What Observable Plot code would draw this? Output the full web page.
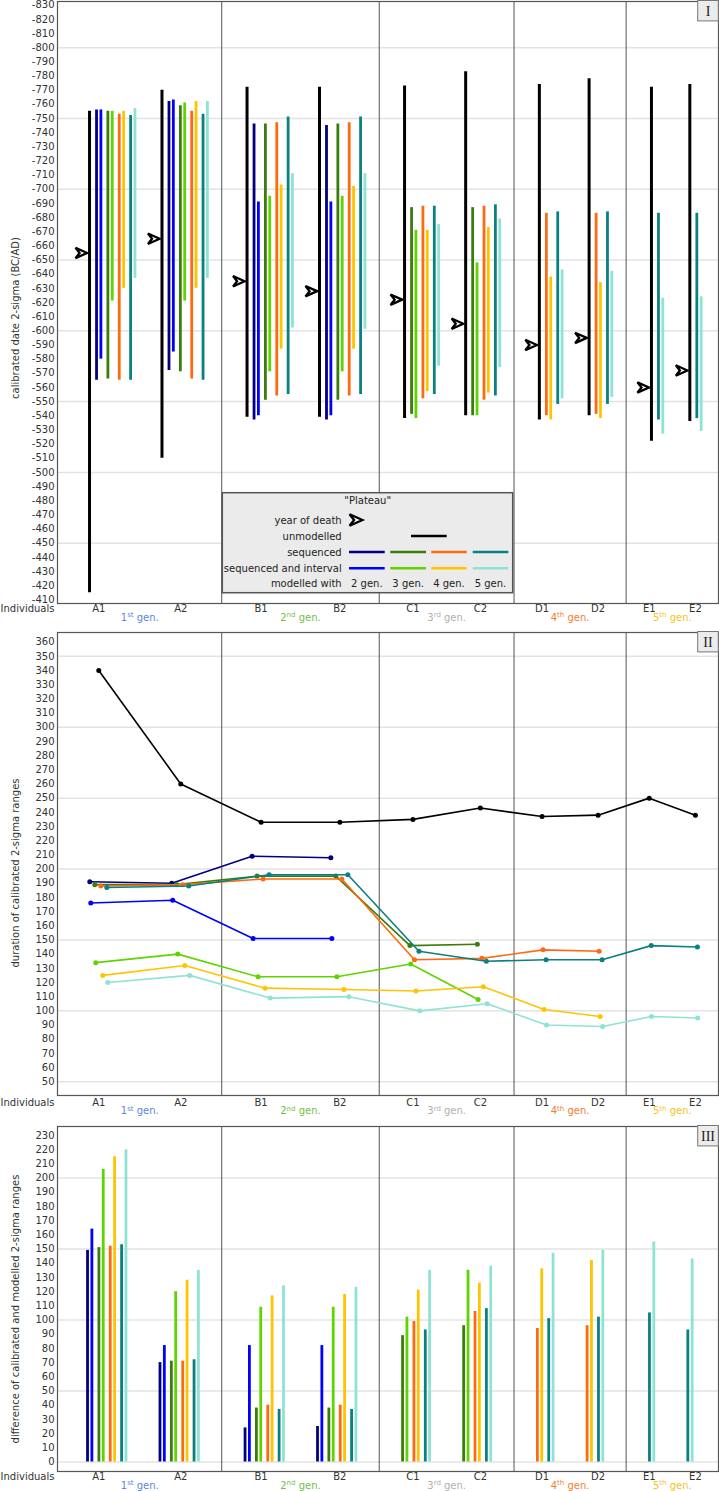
<!DOCTYPE html>
<html><head><meta charset="utf-8">
<script src="https://cdn.jsdelivr.net/npm/d3@7"></script>
<script src="https://cdn.jsdelivr.net/npm/@observablehq/plot@0.6"></script>
<style>
body{margin:0;background:#fff;}
#chart{width:719px;}
#chart svg{display:block;}
</style></head><body><div id="chart"></div>
<script>
// ---------------- data ----------------
const individuals = ["A1","A2","B1","B2","C1","C2","D1","D2","E1","E2"];
const generationLabels = ["1st gen.","2nd gen.","3rd gen.","4th gen.","5th gen."];
const seriesKeys = ["unmodelled","seq2","int2","seq3","int3","seq4","int4","seq5","int5"];
const legendTitle = '"Plateau"';
const legendRows = ["year of death","unmodelled","sequenced","sequenced and interval","modelled with"];
const legendGens = ["2 gen.","3 gen.","4 gen.","5 gen."];
const panelTitles = ["I","II","III"];
const yTitles = ["calibrated date 2-sigma (BC/AD)","duration of calibrated 2-sigma ranges","difference of calibrated and modelled 2-sigma ranges"];

// Panel I: calibrated 2-sigma ranges (BC negative)
const yearOfDeath = [-655,-665,-635,-628,-622,-605,-590,-595,-560,-572];
const unmodStart = [-755,-770,-772,-772,-773,-783,-774,-778,-772,-774];
const unmodEnd   = [-415,-510,-539,-539,-538,-540,-537,-540,-522,-536];
const seq2Start = [-756,-762,-746,-745,null,null,null,null,null,null];
const seq2End   = [-565,-572,-537,-537,null,null,null,null,null,null];
const int2Start = [-756,-763,-691,-691,null,null,null,null,null,null];
const int2End   = [-580,-585,-540,-540,null,null,null,null,null,null];
const seq3Start = [-755,-759,-746,-746,-687,-687,null,null,null,null];
const seq3End   = [-566,-571,-551,-551,-541,-540,null,null,null,null];
const int3Start = [-755,-761,-695,-695,-671,-648,null,null,null,null];
const int3End   = [-621,-621,-571,-571,-538,-540,null,null,null,null];
const seq4Start = [-753,-755,-747,-747,-688,-688,-683,-683,null,null];
const seq4End   = [-565,-566,-554,-554,-552,-551,-540,-541,null,null];
const int4Start = [-755,-762,-703,-702,-671,-673,-638,-634,null,null];
const int4End   = [-630,-630,-587,-587,-557,-556,-537,-538,null,null];
const seq5Start = [-752,-753,-751,-751,-688,-689,-684,-684,-683,-683];
const seq5End   = [-565,-565,-555,-555,-555,-554,-548,-548,-537,-538];
const int5Start = [-757,-762,-711,-711,-675,-679,-643,-642,-623,-624];
const int5End   = [-637,-637,-602,-601,-575,-574,-552,-553,-527,-529];

// Panel II: duration of calibrated 2-sigma ranges
const durUnmod = [340,260,233,233,235,243,237,238,250,238];
const durSeq2  = [191,190,209,208,null,null,null,null,null,null];
const durInt2  = [176,178,151,151,null,null,null,null,null,null];
const durSeq3  = [189,189,195,195,146,147,null,null,null,null];
const durInt3  = [134,140,124,124,133,108,null,null,null,null];
const durSeq4  = [188,189,193,193,136,137,143,142,null,null];
const durInt4  = [125,132,116,115,114,117,101,96,null,null];
const durSeq5  = [187,188,196,196,142,135,136,136,146,145];
const durInt5  = [120,125,109,110,100,105,90,89,96,95];

// Panel III: difference of calibrated and modelled 2-sigma ranges
const diffSeq2 = [149,70,24,25,null,null,null,null,null,null];
const diffInt2 = [164,82,82,82,null,null,null,null,null,null];
const diffSeq3 = [151,71,38,38,89,96,null,null,null,null];
const diffInt3 = [206,120,109,109,102,135,null,null,null,null];
const diffSeq4 = [152,71,40,40,99,106,94,96,null,null];
const diffInt4 = [215,128,117,118,121,126,136,142,null,null];
const diffSeq5 = [153,72,37,37,93,108,101,102,105,93];
const diffInt5 = [220,135,124,123,135,138,147,149,155,143];

// ---------------- styles ----------------
const fontFamily = "'DejaVu Sans', Verdana, sans-serif";
const colors = {unmodelled:"#000000", seq2:"#000080", int2:"#0000ff", seq3:"#3b7d0c", int3:"#5fd400",
                seq4:"#ff6a10", int4:"#ffc400", seq5:"#0a8080", int5:"#8ee3d3"};
const genColors = ["#5b86e0","#72bf48","#b0b0b0","#f47d30","#f8c21c"];
const pairOf = {seq2:2,int2:2,seq3:3,int3:3,seq4:4,int4:4,seq5:5,int5:5};
const L = {lead:31.7, afterSep:25.3, blackToPair:7, inPair:4.35, betweenPairs:7, betweenInd:27, beforeSep:14.3, trail:17.3};
const dx2 = {unmodelled:0, seq2:-9, int2:-8, seq3:-4, int3:-3, seq4:2, int4:4, seq5:8, int5:9};

const rangeData = {unmodelled:[unmodStart,unmodEnd], seq2:[seq2Start,seq2End], int2:[int2Start,int2End],
  seq3:[seq3Start,seq3End], int3:[int3Start,int3End], seq4:[seq4Start,seq4End], int4:[int4Start,int4End],
  seq5:[seq5Start,seq5End], int5:[int5Start,int5End]};
const durData = {unmodelled:durUnmod, seq2:durSeq2, int2:durInt2, seq3:durSeq3, int3:durInt3, seq4:durSeq4, int4:durInt4, seq5:durSeq5, int5:durInt5};
const diffData = {seq2:diffSeq2, int2:diffInt2, seq3:diffSeq3, int3:diffInt3, seq4:diffSeq4, int4:diffInt4, seq5:diffSeq5, int5:diffInt5};

// ---------------- layout of slots (derived from data structure) ----------------
const layout = {}, separators = [], groupBounds = [], labelX = {};
const groupIds = [...new Set(individuals.map(d => d[0]))];
let cx = 0;
groupIds.forEach((g, gi) => {
  const start = cx;
  cx += gi === 0 ? L.lead : L.afterSep;
  const members = individuals.filter(d => d[0] === g);
  members.forEach((ind, mi) => {
    if (mi > 0) cx += L.betweenInd;
    const i = individuals.indexOf(ind);
    layout[ind] = {unmodelled: cx};
    let prev = null;
    seriesKeys.slice(1).forEach(k => {
      if (rangeData[k][0][i] == null) return;
      cx += prev == null ? L.blackToPair : (pairOf[prev] === pairOf[k] ? L.inPair : L.betweenPairs);
      layout[ind][k] = cx; prev = k;
    });
  });
  cx += gi === groupIds.length - 1 ? L.trail : L.beforeSep;
  groupBounds.push([start, cx]);
  members.forEach((ind, mi) => { labelX[ind] = start + (cx - start) * (mi === 0 ? 0.25 : 0.75); });
  if (gi < groupIds.length - 1) separators.push(cx);
});
const xTotal = cx;
const genMid = groupBounds.map(([a, b]) => (a + b) / 2);
const groupSize = ind => seriesKeys.filter(k => rangeData[k][0][individuals.indexOf(ind)] != null).length;

// ---------------- helpers ----------------
const arrowhead = {draw(ctx, size) {
  const r = Math.sqrt(size / Math.PI);
  ctx.moveTo(r, 0); ctx.lineTo(-r, -0.9 * r); ctx.lineTo(-0.3 * r, 0); ctx.lineTo(-r, 0.9 * r); ctx.closePath();
}};
const commonX = {domain: [0, xTotal], range: [57.3, 718], axis: null};
const colorScale = {domain: seriesKeys, range: seriesKeys.map(k => colors[k])};
const baseStyle = {fontFamily, fontSize: "10px", color: "#333", background: "#fff", overflow: "visible"};

function xAxisMarks(dyInd, dyGen) {
  return [
    Plot.text(individuals, {x: d => labelX[d], frameAnchor: "bottom", dy: dyInd, lineAnchor: "middle", fill: "#333"}),
    Plot.text(["Individuals"], {frameAnchor: "bottom-left", textAnchor: "end", dx: -3, dy: dyInd, lineAnchor: "middle", fill: "#333"}),
    ...generationLabels.map((g, i) => Plot.text([g], {x: () => genMid[i], frameAnchor: "bottom", dy: dyGen, lineAnchor: "middle", fill: genColors[i]}))
  ];
}
function superscripts(svg) {
  d3.select(svg).selectAll("text").each(function() {
    const m = /^(\d)(st|nd|rd|th)( gen\.)$/.exec(this.textContent);
    if (!m) return;
    const s = d3.select(this); s.text(null);
    s.append("tspan").text(m[1]);
    s.append("tspan").attr("font-size", "7px").attr("dy", "-3.5").text(m[2]);
    s.append("tspan").attr("dy", "3.5").text(m[3]);
  });
}
function panelTag(svg, label) {
  const g = d3.select(svg).append("g");
  g.append("rect").attr("x", 697.7).attr("y", 0.5).attr("width", 20.6).attr("height", 20.4)
    .attr("fill", "#ececec").attr("stroke", "#777").attr("stroke-width", 1);
  g.append("text").attr("x", 708).attr("y", 11).attr("text-anchor", "middle").attr("dominant-baseline", "central")
    .attr("font-family", "'Liberation Serif', 'DejaVu Serif', serif").attr("font-size", 14).attr("fill", "#222").text(label);
}
function yTitle(svg, text, cy) {
  d3.select(svg).append("text").attr("transform", `translate(18.5,${cy}) rotate(-90)`).attr("text-anchor", "middle")
    .attr("font-family", fontFamily).attr("font-size", 10).attr("fill", "#333").text(text);
}
function drawLegend(svg) {
  const g = d3.select(svg).append("g").attr("font-family", fontFamily).attr("font-size", 10).attr("fill", "#222");
  g.append("rect").attr("x", 222.3).attr("y", 492.7).attr("width", 290.4).attr("height", 100)
    .attr("fill", "#ebebeb").attr("stroke", "#555").attr("stroke-width", 1.5);
  g.append("text").attr("x", 367.7).attr("y", 500.7).attr("dy", "0.35em").attr("text-anchor", "middle").text(legendTitle);
  const rowY = [520, 536, 552, 568.3, 583.7];
  legendRows.forEach((t, i) => g.append("text").attr("x", 341.7).attr("y", rowY[i]).attr("dy", "0.35em").attr("text-anchor", "end").text(t));
  const r = 6.4;
  g.append("path").attr("transform", `translate(356,${rowY[0]})`)
    .attr("d", `M${r},0L${-r},${-0.9*r}L${-0.3*r},0L${-r},${0.9*r}Z`).attr("fill", "#fff").attr("stroke", "#000").attr("stroke-width", 2.3);
  g.append("line").attr("x1", 411).attr("x2", 446.7).attr("y1", rowY[1]).attr("y2", rowY[1]).attr("stroke", colors.unmodelled).attr("stroke-width", 2.6);
  const cols = [[349, 384.7], [390.3, 426], [431.3, 466.7], [472.7, 508.3]];
  const seqKeys = ["seq2","seq3","seq4","seq5"], intKeys = ["int2","int3","int4","int5"];
  cols.forEach(([a, b], j) => {
    g.append("line").attr("x1", a).attr("x2", b).attr("y1", rowY[2]).attr("y2", rowY[2]).attr("stroke", colors[seqKeys[j]]).attr("stroke-width", 2.6);
    g.append("line").attr("x1", a).attr("x2", b).attr("y1", rowY[3]).attr("y2", rowY[3]).attr("stroke", colors[intKeys[j]]).attr("stroke-width", 2.6);
    g.append("text").attr("x", (a + b) / 2).attr("y", rowY[4]).attr("dy", "0.35em").attr("text-anchor", "middle").text(legendGens[j]);
  });
}

// ---------------- Panel I ----------------
const bars1 = [];
seriesKeys.forEach(k => {
  const [s, e] = rangeData[k];
  individuals.forEach((ind, i) => { if (s[i] != null) bars1.push({key: k, x: layout[ind][k], start: s[i], end: e[i]}); });
});
const deaths = individuals.map((ind, i) => ({x: layout[ind].unmodelled, y: yearOfDeath[i]}));

const p1 = Plot.plot({
  width: 719, height: 631, marginTop: 1, marginBottom: 28, marginLeft: 57, marginRight: 1,
  style: baseStyle, x: commonX, y: {domain: [-407.4, -832.6], axis: null}, color: colorScale,
  marks: [
    Plot.ruleY(d3.range(-800, -449, 50), {stroke: "#e3e3e3", strokeWidth: 1.5}),
    Plot.ruleX(separators, {stroke: "#555", strokeWidth: 1}),
    Plot.axisY({ticks: d3.range(-830, -409, 10), tickSize: 0, tickPadding: 3, tickFormat: d => String(d), label: null, color: "#333"}),
    Plot.ruleX(bars1.filter(d => d.key !== "unmodelled"), {x: "x", y1: "start", y2: "end", stroke: "key", strokeWidth: 2.8}),
    Plot.ruleX(bars1.filter(d => d.key === "unmodelled"), {x: "x", y1: "start", y2: "end", stroke: "key", strokeWidth: 3}),
    Plot.dot(deaths, {x: "x", y: "y", symbol: arrowhead, r: 5.8, dx: -8.2, stroke: "#000", strokeWidth: 2.3, fill: "#fff"}),
    Plot.frame({stroke: "#555", strokeWidth: 1.2}),
    ...xAxisMarks(5.5, 14)
  ]
});

// ---------------- Panel II ----------------
const marks2 = [];
seriesKeys.forEach(k => {
  const pts = [];
  individuals.forEach((ind, i) => {
    const v = durData[k][i];
    if (v == null) return;
    const spread = (groupSize(ind) - 1) / 8;
    pts.push({key: k, x: labelX[ind] + dx2[k] * spread, y: v});
  });
  marks2.push(Plot.line(pts, {x: "x", y: "y", stroke: "key", strokeWidth: 1.6}));
  marks2.push(Plot.dot(pts, {x: "x", y: "y", fill: "key", r: 2.5}));
});
const p2 = Plot.plot({
  width: 719, height: 494, marginTop: 1, marginBottom: 30, marginLeft: 57, marginRight: 1,
  style: baseStyle, x: commonX, y: {domain: [40.3, 366.8], axis: null}, color: colorScale,
  marks: [
    Plot.ruleY(d3.range(50, 351, 50), {stroke: "#e3e3e3", strokeWidth: 1.5}),
    Plot.ruleX(separators, {stroke: "#555", strokeWidth: 1}),
    Plot.axisY({ticks: d3.range(50, 361, 10), tickSize: 0, tickPadding: 3, tickFormat: d => String(d), label: null, color: "#333"}),
    ...marks2,
    Plot.frame({stroke: "#555", strokeWidth: 1.2}),
    ...xAxisMarks(7.3, 15.7)
  ]
});

// ---------------- Panel III ----------------
const bars3 = [];
seriesKeys.slice(1).forEach(k => {
  individuals.forEach((ind, i) => { const v = diffData[k][i]; if (v != null) bars3.push({key: k, x: layout[ind][k], v}); });
});
const p3 = Plot.plot({
  width: 719, height: 366, marginTop: 1, marginBottom: 20, marginLeft: 57, marginRight: 1,
  style: baseStyle, x: commonX, y: {domain: [-6.7, 236.3], axis: null}, color: colorScale,
  marks: [
    Plot.ruleY(d3.range(0, 201, 50), {stroke: "#e3e3e3", strokeWidth: 1.5}),
    Plot.ruleX(separators, {stroke: "#555", strokeWidth: 1}),
    Plot.axisY({ticks: d3.range(0, 231, 10), tickSize: 0, tickPadding: 3, tickFormat: d => String(d), label: null, color: "#333"}),
    Plot.ruleX(bars3, {x: "x", y1: () => 0, y2: "v", stroke: "key", strokeWidth: 2.8, dx: -9}),
    Plot.frame({stroke: "#555", strokeWidth: 1.2}),
    ...xAxisMarks(5.7, 14)
  ]
});

drawLegend(p1);
[p1, p2, p3].forEach((p, i) => { superscripts(p); panelTag(p, panelTitles[i]); });
yTitle(p1, yTitles[0], 318);
yTitle(p2, yTitles[1], 242);
yTitle(p3, yTitles[2], 184);
const chart = document.getElementById("chart");
[p1, p2, p3].forEach(p => chart.appendChild(p));
</script>
</body></html>
